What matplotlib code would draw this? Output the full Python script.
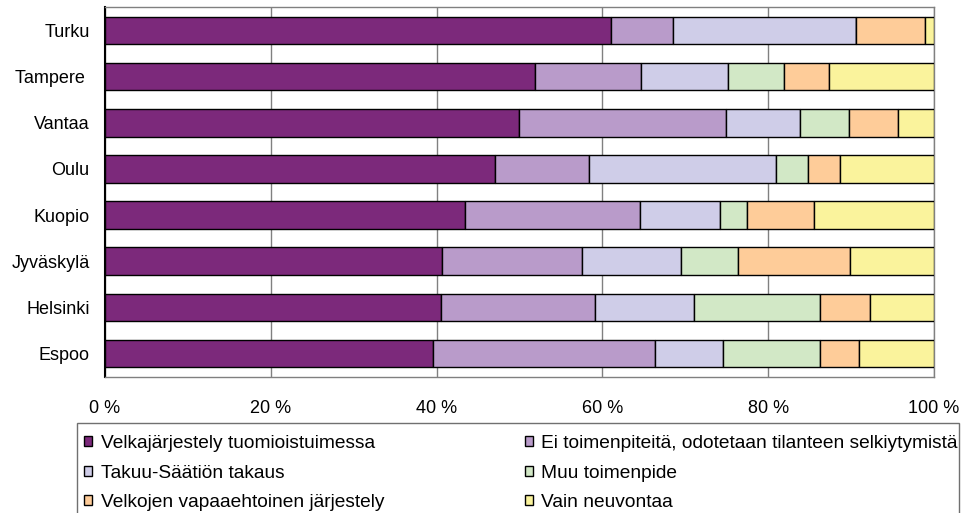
import matplotlib
matplotlib.use("Agg")
import matplotlib.pyplot as plt
from matplotlib.patches import Rectangle
import numpy as np

plt.rcParams['font.family'] = ['Liberation Sans', 'DejaVu Sans']

cities = ["Turku", "Tampere ", "Vantaa", "Oulu", "Kuopio", "Jyväskylä", "Helsinki", "Espoo"]
series_names = ["Velkajärjestely tuomioistuimessa",
                "Ei toimenpiteitä, odotetaan tilanteen selkiytymistä",
                "Takuu-Säätiön takaus",
                "Muu toimenpide",
                "Velkojen vapaaehtoinen järjestely",
                "Vain neuvontaa"]
velkajarjestely = [61.0, 51.9, 49.9, 47.1, 43.4, 40.7, 40.5, 39.6]
ei_toimenpiteita = [7.5, 12.8, 25.0, 11.3, 21.1, 16.8, 18.6, 26.8]
takuu = [22.1, 10.4, 8.9, 22.6, 9.7, 12.0, 12.0, 8.1]
muu = [0.0, 6.8, 5.9, 3.8, 3.2, 6.8, 15.1, 11.7]
vapaaehtoinen = [8.3, 5.4, 5.9, 3.9, 8.1, 13.6, 6.1, 4.7]
neuvonta = [1.1, 12.7, 4.4, 11.3, 14.5, 10.1, 7.7, 9.1]
tick_labels = ["0 %", "20 %", "40 %", "60 %", "80 %", "100 %"]

colors = ["#7C297B", "#B99BCA", "#CFCDE8", "#D2E8C6", "#FECC99", "#FAF39C"]
data = [velkajarjestely, ei_toimenpiteita, takuu, muu, vapaaehtoinen, neuvonta]

W, H = 962, 513
fig = plt.figure(figsize=(W / 100, H / 100), dpi=100)
ax = fig.add_axes([0.1091, 0.2657, 0.9709 - 0.1091, 0.9858 - 0.2657])

y = np.arange(len(cities))
left = np.zeros(len(cities))
handles = []
for vals, col, name in zip(data, colors, series_names):
    v = np.array(vals)
    b = ax.barh(y, v, left=left, height=0.6, color=col, edgecolor="black",
                linewidth=1.0, label=name, zorder=3)
    handles.append(b)
    left += v

ax.set_ylim(len(cities) - 0.5, -0.5)
ax.set_xlim(0, 100)
ax.set_xticks([0, 20, 40, 60, 80, 100])
ax.set_xticklabels(tick_labels, fontsize=13)
ax.set_yticks(y)
ax.set_yticklabels(cities, fontsize=13)
ax.tick_params(axis='both', length=0)
ax.tick_params(axis='y', pad=11)
ax.tick_params(axis='x', pad=17)
ax.xaxis.grid(True, color="#808080", linewidth=1.0, zorder=0)
ax.set_axisbelow(True)
for s in ["top", "right", "bottom"]:
    ax.spines[s].set_color("#808080")
    ax.spines[s].set_linewidth(1.0)
ax.spines["left"].set_color("black")
ax.spines["left"].set_linewidth(1.5)

# legend box frame (drawn separately so contents can be placed freely)
frame = Rectangle((77 / W, -0.05), (959 - 77) / W, (1 - 423 / H) + 0.05,
                  transform=fig.transFigure, fill=False, edgecolor="#707070",
                  linewidth=1.0)
fig.patches.append(frame)

order = [0, 2, 4, 1, 3, 5]
fs = 13.8
pad_px = 0.62 * fs * 100 / 72
x0 = (84 - pad_px) / W
x1 = (958 + pad_px) / W
leg = fig.legend([handles[i] for i in order], [series_names[i] for i in order],
                 loc="upper left", bbox_to_anchor=(x0, 1 - 423 / H, x1 - x0, 0.0),
                 mode="expand", ncol=2, fontsize=fs, frameon=False,
                 borderaxespad=0, handlelength=0.42,
                 handleheight=0.42, handletextpad=0.45, labelspacing=0.66,
                 borderpad=0.62, columnspacing=1.0)

fig.savefig("out.png", dpi=100)
